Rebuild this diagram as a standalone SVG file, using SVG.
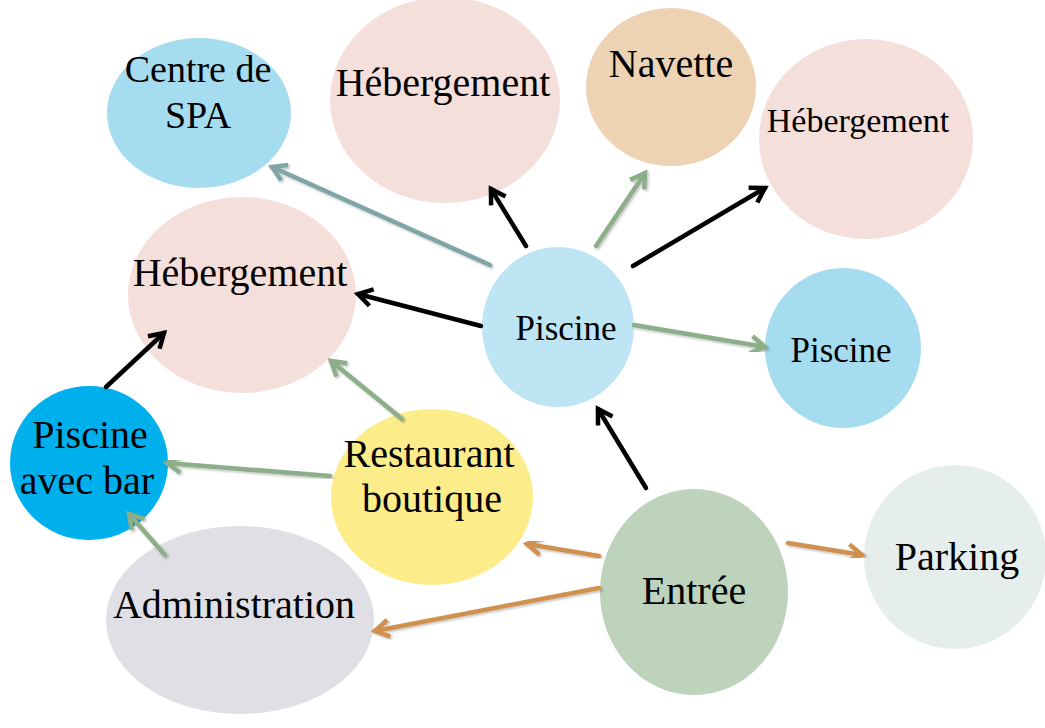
<svg xmlns="http://www.w3.org/2000/svg" width="1045" height="728" viewBox="0 0 1045 728">
<style>
text{font-family:"Liberation Serif","Times New Roman",serif;fill:#000;text-anchor:middle;font-size:40px}
text.s38{font-size:38px}
text.s35{font-size:35px}
text.s34{font-size:34px}
.c{fill:none;stroke-width:4.5;stroke-linecap:round}
.k{stroke:#000}
.g{stroke:#8cae88}
.t{stroke:#7fa5a6}
.o{stroke:#d0914f}
</style>
<defs>
<filter id="sh" x="-20%" y="-20%" width="140%" height="140%"><feDropShadow dx="1.5" dy="1.5" stdDeviation="1.2" flood-color="#000" flood-opacity="0.25"/></filter>
<marker id="mk" markerUnits="userSpaceOnUse" markerWidth="30" markerHeight="30" viewBox="-20 -15 30 30" refX="0" refY="0" orient="auto"><path d="M-14,-8.5 L0,0 L-14,8.5" fill="none" stroke="#000" stroke-width="4.5"/></marker>
<marker id="mg" markerUnits="userSpaceOnUse" markerWidth="30" markerHeight="30" viewBox="-20 -15 30 30" refX="0" refY="0" orient="auto"><path d="M-14,-8.5 L0,0 L-14,8.5" fill="none" stroke="#8cae88" stroke-width="4.5"/></marker>
<marker id="mt" markerUnits="userSpaceOnUse" markerWidth="30" markerHeight="30" viewBox="-20 -15 30 30" refX="0" refY="0" orient="auto"><path d="M-14,-8.5 L0,0 L-14,8.5" fill="none" stroke="#7fa5a6" stroke-width="4.5"/></marker>
<marker id="mo" markerUnits="userSpaceOnUse" markerWidth="30" markerHeight="30" viewBox="-20 -15 30 30" refX="0" refY="0" orient="auto"><path d="M-14,-8.5 L0,0 L-14,8.5" fill="none" stroke="#d0914f" stroke-width="4.5"/></marker>
</defs>
<rect width="1045" height="728" fill="#fff"/>
<g id="spa"><ellipse cx="199" cy="113" rx="92" ry="75" fill="#a6dcef"/><text class="s38" x="198" y="82">Centre de</text><text class="s38" x="198" y="128">SPA</text></g>
<g id="heb-top"><ellipse cx="445" cy="100" rx="115" ry="103" fill="#f5dfda"/><text x="443" y="96">Hébergement</text></g>
<g id="navette"><ellipse cx="671" cy="87" rx="85" ry="79" fill="#edd3b3"/><text x="671" y="77">Navette</text></g>
<g id="heb-right"><ellipse cx="866" cy="139" rx="107" ry="100" fill="#f5dfda"/><text class="s34" x="858" y="132">Hébergement</text></g>
<g id="heb-left"><ellipse cx="242" cy="295" rx="114" ry="98" fill="#f5dfda"/><text x="240" y="286">Hébergement</text></g>
<g id="piscine-center"><ellipse cx="558" cy="327" rx="76" ry="80" fill="#bde5f3"/><text class="s35" x="566" y="340">Piscine</text></g>
<g id="piscine-right"><ellipse cx="843" cy="348" rx="78" ry="80" fill="#a6dcef"/><text class="s35" x="841" y="362">Piscine</text></g>
<g id="piscine-bar"><ellipse cx="89" cy="463" rx="79" ry="77" fill="#00b0ec"/><text x="90" y="448">Piscine</text><text x="87" y="494">avec bar</text></g>
<g id="restaurant"><ellipse cx="432" cy="497" rx="101" ry="88" fill="#fdec8a"/><text x="429" y="467">Restaurant</text><text x="432" y="512">boutique</text></g>
<g id="administration"><ellipse cx="240" cy="620" rx="134" ry="94" fill="#dfdfe5"/><text x="234" y="618">Administration</text></g>
<g id="entree"><ellipse cx="694" cy="592" rx="94" ry="103" fill="#bdd3bb"/><text x="694" y="604">Entrée</text></g>
<g id="parking"><ellipse cx="955" cy="557" rx="91" ry="92" fill="#e6eeed"/><text x="957" y="570">Parking</text></g>
<g id="connectors">
<line class="c t" filter="url(#sh)" x1="490" y1="265" x2="272" y2="167" marker-end="url(#mt)"/>
<line class="c k" x1="526" y1="246" x2="491" y2="189" marker-end="url(#mk)"/>
<line class="c g" filter="url(#sh)" x1="596" y1="246" x2="645" y2="173" marker-end="url(#mg)"/>
<line class="c k" x1="633" y1="266" x2="765" y2="188" marker-end="url(#mk)"/>
<line class="c k" x1="481" y1="326" x2="358" y2="294" marker-end="url(#mk)"/>
<line class="c g" filter="url(#sh)" x1="634" y1="325" x2="765" y2="347" marker-end="url(#mg)"/>
<line class="c k" x1="646" y1="488" x2="598" y2="409" marker-end="url(#mk)"/>
<line class="c g" filter="url(#sh)" x1="402" y1="419" x2="331" y2="361" marker-end="url(#mg)"/>
<line class="c k" x1="106" y1="387" x2="164" y2="333" marker-end="url(#mk)"/>
<line class="c g" filter="url(#sh)" x1="330" y1="476" x2="167" y2="463" marker-end="url(#mg)"/>
<line class="c g" filter="url(#sh)" x1="165" y1="555" x2="129" y2="514" marker-end="url(#mg)"/>
<line class="c o" filter="url(#sh)" x1="599" y1="556" x2="527" y2="544" marker-end="url(#mo)"/>
<line class="c o" filter="url(#sh)" x1="599" y1="588" x2="375" y2="631" marker-end="url(#mo)"/>
<line class="c o" filter="url(#sh)" x1="788" y1="543" x2="862" y2="555" marker-end="url(#mo)"/>
</g>
</svg>
